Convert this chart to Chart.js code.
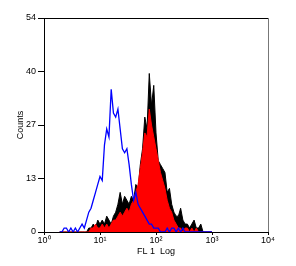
<!DOCTYPE html>
<html><head><meta charset="utf-8">
<script src="https://cdn.jsdelivr.net/npm/chart.js@4/dist/chart.umd.min.js"></script>
<style>html,body{margin:0;padding:0;background:#fff}</style>
</head><body>
<canvas id="c" width="296" height="266" style="width:296px;height:266px;display:block"></canvas>
<script>
// Histogram bins on a log10 (decades) axis
const binStartLog = 0.28;
const binStepLog = 0.04;
const blueCounts = [0,0,1,1,0,1,0,1,0,1,2,1,3,5,6,8,10,12,14,13,22,26,24,36,30,29,31,26,21,20,21,17,12,8,10,7,6,5,4,3,2,2,1,1,1,0,0,0,1,0,1,1,0,1,0,1,0,0,0,0,0,0,0,0,0,0,0,0,0];
const redCounts = [0,0,0,0,0,0,0,0,0,0,0,0,0,0,1,1,2,1,1,2,1,2,1,2,3,3,4,5,4,5,6,5,7,8,10,12,16,20,25,24,31,27,24,21,18,15,13,11,8,6,5,3,2,1,1,0,1,1,0,1,0,1,0,0,0,0,0,0,0];
const blackCounts = [0,0,0,0,0,0,0,0,0,0,0,0,0,1,1,2,1,3,2,3,2,4,3,2,4,5,7,10,7,9,8,7,9,8,12,11,17,21,29,26,40,32,37,25,18,17,16,15,10,11,7,5,4,4,6,3,2,2,1,2,3,1,1,2,0,0,0,0,0];
const yTickValues = [0, 13.5, 27, 40.5, 54];
const xTickLabels = ['10\u2070','10\u00b9','10\u00b2','10\u00b3','10\u2074'];

const toPts = arr => arr.map((v, i) => ({x: binStartLog + i * binStepLog, y: v}));

const frame = {
  id: 'frame',
  afterDraw(chart) {
    const {ctx, chartArea: a} = chart;
    ctx.save();
    ctx.lineWidth = 1;
    ctx.strokeStyle = '#000';
    ctx.beginPath();
    ctx.moveTo(a.left, Math.round(a.top) + 0.5);
    ctx.lineTo(Math.round(a.right) + 0.5, Math.round(a.top) + 0.5);
    ctx.stroke();
    ctx.strokeStyle = '#777';
    ctx.beginPath();
    ctx.moveTo(Math.round(a.right) + 0.5, Math.round(a.top) + 0.5);
    ctx.lineTo(Math.round(a.right) + 0.5, a.bottom);
    ctx.stroke();
    ctx.restore();
  }
};

const font = {family: '"Liberation Sans", Arial, sans-serif', size: 9};

new Chart(document.getElementById('c'), {
  type: 'line',
  data: {
    datasets: [
      {data: toPts(blueCounts), borderColor: '#0000ff', borderWidth: 1.3, pointRadius: 0, tension: 0, fill: false, order: 1},
      {data: toPts(redCounts), borderColor: '#ff0000', backgroundColor: '#ff0000', borderWidth: 1, pointRadius: 0, tension: 0, fill: 'origin', order: 2},
      {data: toPts(blackCounts), borderColor: '#000000', backgroundColor: '#000000', borderWidth: 1, pointRadius: 0, tension: 0, fill: 'origin', order: 3}
    ]
  },
  options: {
    responsive: false,
    animation: false,
    devicePixelRatio: 1,
    layout: {padding: {top: 18, right: 28, left: 15, bottom: 9}},
    plugins: {legend: {display: false}, tooltip: {enabled: false}},
    scales: {
      x: {
        type: 'linear', min: 0, max: 4,
        afterBuildTicks: s => { s.ticks = [0,1,2,3,4].map(v => ({value: v})); },
        ticks: {callback: (v) => xTickLabels[Math.round(v)], color: '#000', font, padding: 0, maxRotation: 0, autoSkip: false},
        grid: {drawOnChartArea: false, drawTicks: true, tickLength: 3, color: '#000'},
        border: {display: true, color: '#000'},
        title: {display: true, text: 'FL 1  Log', color: '#000', font, padding: {top: 0, bottom: 0}},
        afterFit: s => { s.height = 25; }
      },
      y: {
        min: 0, max: 54,
        afterBuildTicks: s => { s.ticks = yTickValues.map(v => ({value: v})); },
        ticks: {callback: v => String(Math.floor(v)), color: '#000', font, padding: 2},
        grid: {drawOnChartArea: false, drawTicks: true, tickLength: 6, color: '#000'},
        border: {display: true, color: '#000'},
        title: {display: true, text: 'Counts', color: '#000', font, padding: {top: 0, bottom: 0}},
        afterFit: s => { s.width = 29; }
      }
    }
  },
  plugins: [frame]
});
</script>
</body></html>
